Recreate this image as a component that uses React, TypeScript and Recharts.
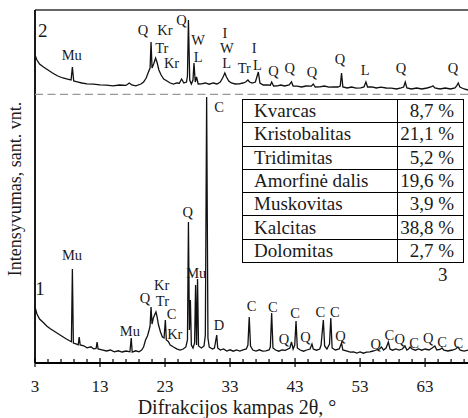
import React from "react";
import { ComposedChart, Line, Scatter, XAxis, YAxis, ReferenceLine } from "recharts";

// diffractogram traces: [2θ angle, intensity]
const lowerTrace: [number, number][] = [
  [3.0, 560], [3.3, 490], [3.7, 440], [4.2, 410], [4.8, 370], [5.3, 345], [5.9, 320], [6.5, 295],
  [7.1, 270], [7.7, 245], [8.3, 222], [8.6, 212], [8.75, 940], [8.9, 200], [9.3, 192], [9.65, 182],
  [9.8, 260], [9.95, 180], [10.5, 172], [11.0, 152], [11.6, 162], [12.0, 142], [12.4, 145], [12.55, 210],
  [12.7, 140], [13.3, 132], [14.0, 120], [14.6, 130], [15.2, 112], [15.8, 122], [16.4, 110], [17.0, 120],
  [17.6, 112], [17.8, 250], [17.95, 110], [18.5, 122], [19.0, 112], [19.4, 130], [19.7, 160], [20.0, 230],
  [20.3, 270], [20.55, 330], [20.7, 370], [20.85, 560], [21.0, 390], [21.2, 450], [21.45, 490], [21.6, 510],
  [21.75, 470], [22.0, 380], [22.3, 310], [22.6, 260], [22.85, 250], [23.05, 430], [23.2, 230], [23.5, 215],
  [23.8, 180], [24.3, 160], [24.8, 142], [25.3, 130], [25.8, 140], [26.2, 160], [26.45, 230], [26.6, 1410],
  [26.75, 330], [26.9, 630], [27.05, 180], [27.3, 150], [27.55, 200], [27.7, 780], [27.85, 180], [28.0, 840],
  [28.15, 170], [28.6, 150], [29.0, 170], [29.2, 280], [29.4, 2660], [29.6, 250], [29.8, 160], [30.3, 140],
  [30.6, 150], [30.95, 280], [31.1, 150], [31.5, 130], [32.0, 140], [32.5, 120], [33.0, 132], [33.5, 118],
  [34.0, 130], [34.5, 120], [35.0, 132], [35.5, 140], [35.75, 180], [35.95, 460], [36.15, 170], [36.5, 130],
  [37.0, 120], [37.5, 132], [38.0, 118], [38.5, 122], [39.0, 130], [39.2, 160], [39.4, 500], [39.6, 150],
  [40.0, 130], [40.5, 118], [41.0, 130], [41.5, 126], [42.2, 150], [42.45, 210], [42.7, 140], [42.95, 180],
  [43.15, 420], [43.35, 150], [43.8, 130], [44.3, 118], [44.8, 130], [45.3, 140], [45.6, 190], [45.8, 140],
  [46.3, 128], [46.8, 140], [47.0, 180], [47.35, 430], [47.55, 170], [47.9, 140], [48.3, 190], [48.5, 450],
  [48.7, 150], [49.2, 130], [49.8, 140], [50.15, 200], [50.35, 130], [51.0, 118], [51.5, 108], [52.0, 112],
  [52.5, 100], [53.0, 110], [53.5, 98], [54.0, 108], [54.5, 112], [55.0, 120], [55.5, 130], [56.0, 140],
  [56.3, 160], [56.6, 130], [57.0, 150], [57.35, 210], [57.6, 140], [58.0, 128], [58.5, 140], [59.0, 130],
  [59.5, 140], [59.9, 170], [60.2, 130], [60.45, 140], [60.7, 160], [61.0, 140], [61.5, 128], [62.0, 140],
  [62.5, 128], [63.0, 140], [63.6, 130], [64.1, 150], [64.5, 170], [64.8, 130], [65.3, 135], [65.6, 150],
  [65.9, 128], [66.5, 120], [67.2, 130], [67.7, 140], [68.05, 160], [68.4, 128], [69.0, 118], [69.6, 128],
];

const upperTrace: [number, number][] = [
  [3.0, 3080], [3.3, 3030], [3.7, 2990], [4.3, 2960], [5.0, 2930], [5.7, 2900], [6.5, 2870], [7.3, 2850],
  [8.0, 2838], [8.55, 2830], [8.75, 2960], [8.95, 2820], [9.5, 2812], [10.2, 2800], [11.0, 2792], [12.0, 2788],
  [13.0, 2782], [14.0, 2778], [15.0, 2772], [16.0, 2780], [17.0, 2776], [17.5, 2800], [17.9, 2780], [18.5, 2772],
  [19.3, 2790], [19.7, 2810], [20.1, 2850], [20.45, 2910], [20.7, 2950], [20.85, 3210], [21.0, 2950], [21.25, 2990],
  [21.55, 3050], [21.8, 3000], [22.05, 2930], [22.4, 2880], [22.8, 2840], [23.3, 2820], [23.8, 2800], [24.3, 2790],
  [24.8, 2800], [25.2, 2798], [25.55, 2840], [25.9, 2800], [26.3, 2810], [26.45, 2870], [26.6, 3430], [26.8, 2830],
  [27.05, 2790], [27.3, 2830], [27.45, 3000], [27.65, 2810], [27.85, 2860], [28.1, 2790], [28.6, 2792], [29.2, 2800],
  [29.8, 2788], [30.4, 2800], [31.0, 2790], [31.5, 2810], [31.85, 2850], [32.0, 2870], [32.2, 2900], [32.45, 2860],
  [32.8, 2820], [33.2, 2800], [33.8, 2790], [34.4, 2792], [35.0, 2800], [35.4, 2810], [35.75, 2830], [36.0, 2810],
  [36.4, 2800], [36.9, 2810], [37.35, 2910], [37.6, 2800], [38.1, 2780], [38.7, 2782], [39.2, 2778], [39.4, 2810],
  [39.7, 2770], [40.3, 2772], [40.8, 2780], [41.4, 2770], [42.1, 2780], [42.45, 2812], [42.7, 2770], [43.3, 2768],
  [44.0, 2760], [44.7, 2770], [45.5, 2768], [45.8, 2790], [46.1, 2760], [46.8, 2762], [47.5, 2770], [48.2, 2758],
  [48.9, 2762], [49.6, 2760], [49.95, 2770], [50.15, 2900], [50.35, 2760], [51.0, 2750], [51.7, 2760], [52.4, 2748],
  [53.1, 2752], [53.6, 2760], [53.9, 2810], [54.15, 2760], [54.8, 2762], [55.5, 2750], [56.2, 2758], [57.0, 2750],
  [57.8, 2748], [58.6, 2740], [59.3, 2752], [59.7, 2760], [59.95, 2810], [60.2, 2750], [60.9, 2740], [61.7, 2750],
  [62.5, 2740], [63.3, 2750], [63.9, 2760], [64.2, 2772], [64.5, 2750], [65.3, 2740], [66.1, 2750], [66.9, 2740],
  [67.6, 2750], [67.85, 2770], [68.1, 2800], [68.35, 2760], [69.0, 2740], [69.6, 2730],
];

// phase marks: [symbol, 2θ, intensity level of the label]
const upperMarks: [string, number, number][] = [
  ["Mu", 8.65, 3080], ["Q", 19.6, 3330], ["Kr", 23.0, 3330], ["Tr", 22.5, 3147], ["Kr", 24.0, 2997],
  ["Q", 25.55, 3430], ["W", 28.1, 3230], ["L", 28.1, 3063], ["I", 32.2, 3297], ["W", 32.5, 3147],
  ["L", 32.5, 2997], ["Tr", 35.2, 2947], ["I", 36.7, 3147], ["L", 37.2, 2980], ["Q", 39.7, 2923],
  ["Q", 42.2, 2947], ["Q", 45.6, 2913], ["Q", 49.9, 3037], ["L", 53.8, 2930], ["Q", 59.3, 2953],
  ["Q", 67.3, 2947],
];

const lowerMarks: [string, number, number][] = [
  ["Mu", 8.7, 1080], ["Mu", 17.6, 320], ["Q", 19.9, 650], ["Kr", 22.5, 780], ["Tr", 22.6, 620],
  ["C", 24.0, 490], ["Kr", 24.5, 290], ["Q", 26.5, 1513], ["Mu", 27.8, 903], ["C", 31.3, 2560],
  ["D", 31.3, 380], ["C", 36.3, 570], ["C", 39.6, 563], ["Q", 41.3, 237], ["C", 43.0, 497],
  ["Q", 44.6, 263], ["C", 46.9, 507], ["C", 49.1, 507], ["Q", 50.0, 270], ["Q", 55.4, 193],
  ["C", 57.5, 280], ["Q", 59.1, 237], ["C", 61.3, 200], ["Q", 63.5, 247], ["C", 65.6, 213],
  ["C", 68.1, 197],
];

const traceTags: [string, number, number][] = [["1", 3.77, 750], ["2", 4.2, 3330]];

const phaseNames = ["Kvarcas", "Kristobalitas", "Tridimitas", "Amorfinė dalis", "Muskovitas", "Kalcitas", "Dolomitas"];
const phaseShares = [8.7, 21.1, 5.2, 19.6, 3.9, 38.8, 2.7];

const majorTicks = [3, 13, 23, 33, 43, 53, 63];
const minorTicks = [3, 5, 7, 9, 11, 13, 15, 17, 19, 21, 23, 25, 27, 29, 31, 33, 35, 37, 39, 41, 43, 45, 47, 49, 51, 53, 55, 57, 59, 61, 63, 65, 67, 69];

const SERIF = '"Liberation Serif", "Times New Roman", serif';
const INK = "#1a1a1a";
const serifText = { fontFamily: SERIF };

const rows = [
  ...lowerTrace.map(([angle, v]) => ({ angle, lower: v })),
  ...upperTrace.map(([angle, v]) => ({ angle, upper: v })),
].sort((a, b) => a.angle - b.angle);

const toMarks = (list: [string, number, number][]) =>
  list.map(([text, angle, level]) => ({ text, angle, level }));

function AngleTick(props: any) {
  const { x, y, payload } = props;
  const major = majorTicks.includes(payload.value);
  return (
    <g>
      <line x1={x} x2={x} y1={y - (major ? 5 : 4)} y2={y + (major ? 4 : 0)} stroke="#000" strokeWidth={1.2} />
      {major && (
        <text x={x} y={y + 23} textAnchor="middle" dominantBaseline="central" fontSize={17} style={serifText} fill={INK}>
          {payload.value}
        </text>
      )}
    </g>
  );
}

const markShape = (size: number) => (props: any) => (
  <text
    x={props.cx}
    y={props.cy}
    textAnchor="middle"
    dominantBaseline="central"
    fontSize={size}
    style={serifText}
    fill={INK}
  >
    {props.payload.text}
  </text>
);

function PhaseTable() {
  return (
    <div
      style={{
        position: "absolute",
        left: 242,
        top: 99,
        width: 222,
        height: 164,
        boxSizing: "border-box",
        border: "1.5px solid #000",
        background: "#fff",
        display: "flex",
        flexDirection: "column",
        fontFamily: SERIF,
        fontSize: 19,
        color: INK,
      }}
    >
      {phaseNames.map((name, i) => (
        <div key={name} style={{ flex: 1, display: "flex", borderTop: i ? "1px solid #000" : "none" }}>
          <div style={{ width: 143, borderRight: "1px solid #000", paddingLeft: 11, display: "flex", alignItems: "center" }}>
            {name}
          </div>
          <div style={{ flex: 1, paddingRight: 9, display: "flex", alignItems: "center", justifyContent: "flex-end" }}>
            {phaseShares[i].toFixed(1).replace(".", ",")} %
          </div>
        </div>
      ))}
    </div>
  );
}

export default function App() {
  return (
    <div style={{ position: "absolute", left: 0, top: 0, width: 468, height: 418, background: "#fff", overflow: "hidden" }}>
      <ComposedChart width={468} height={418} data={rows} margin={{ top: 10, right: 0, bottom: 0, left: 35 }}>
        <XAxis
          type="number"
          dataKey="angle"
          domain={[3, 69.6]}
          allowDataOverflow
          ticks={minorTicks}
          interval={0}
          tick={<AngleTick />}
          tickLine={false}
          tickSize={0}
          tickMargin={0}
          height={55}
          axisLine={{ stroke: "#000", strokeWidth: 2 }}
        />
        <YAxis type="number" domain={[0, 3530]} allowDataOverflow hide />
        <ReferenceLine y={3530} stroke="#333" strokeWidth={1.5} />
        <ReferenceLine x={3} stroke="#000" strokeWidth={1.8} />
        <ReferenceLine y={2687} stroke="#999" strokeWidth={1.2} strokeDasharray="8 4.5" />
        <Line
          dataKey="upper"
          type="linear"
          stroke="#111"
          strokeWidth={1.3}
          dot={false}
          connectNulls
          isAnimationActive={false}
        />
        <Line
          dataKey="lower"
          type="linear"
          stroke="#111"
          strokeWidth={1.3}
          dot={false}
          connectNulls
          isAnimationActive={false}
        />
        <Scatter data={toMarks(upperMarks)} dataKey="level" shape={markShape(14.5)} isAnimationActive={false} />
        <Scatter data={toMarks(lowerMarks)} dataKey="level" shape={markShape(14.5)} isAnimationActive={false} />
        <Scatter data={toMarks(traceTags)} dataKey="level" shape={markShape(19)} isAnimationActive={false} />
      </ComposedChart>
      <PhaseTable />
      <div style={{ position: "absolute", left: 438, top: 264, fontFamily: SERIF, fontSize: 19, color: INK }}>3</div>
      <div
        style={{
          position: "absolute",
          left: 15,
          top: 189,
          transform: "translate(-50%, -50%) rotate(-90deg)",
          whiteSpace: "nowrap",
          fontFamily: SERIF,
          fontSize: 18,
          color: INK,
        }}
      >
        Intensyvumas, sant. vnt.
      </div>
      <div
        style={{
          position: "absolute",
          left: 237,
          top: 407,
          transform: "translate(-50%, -50%)",
          whiteSpace: "nowrap",
          fontFamily: SERIF,
          fontSize: 20,
          color: INK,
        }}
      >
        Difrakcijos kampas 2θ, °
      </div>
    </div>
  );
}
